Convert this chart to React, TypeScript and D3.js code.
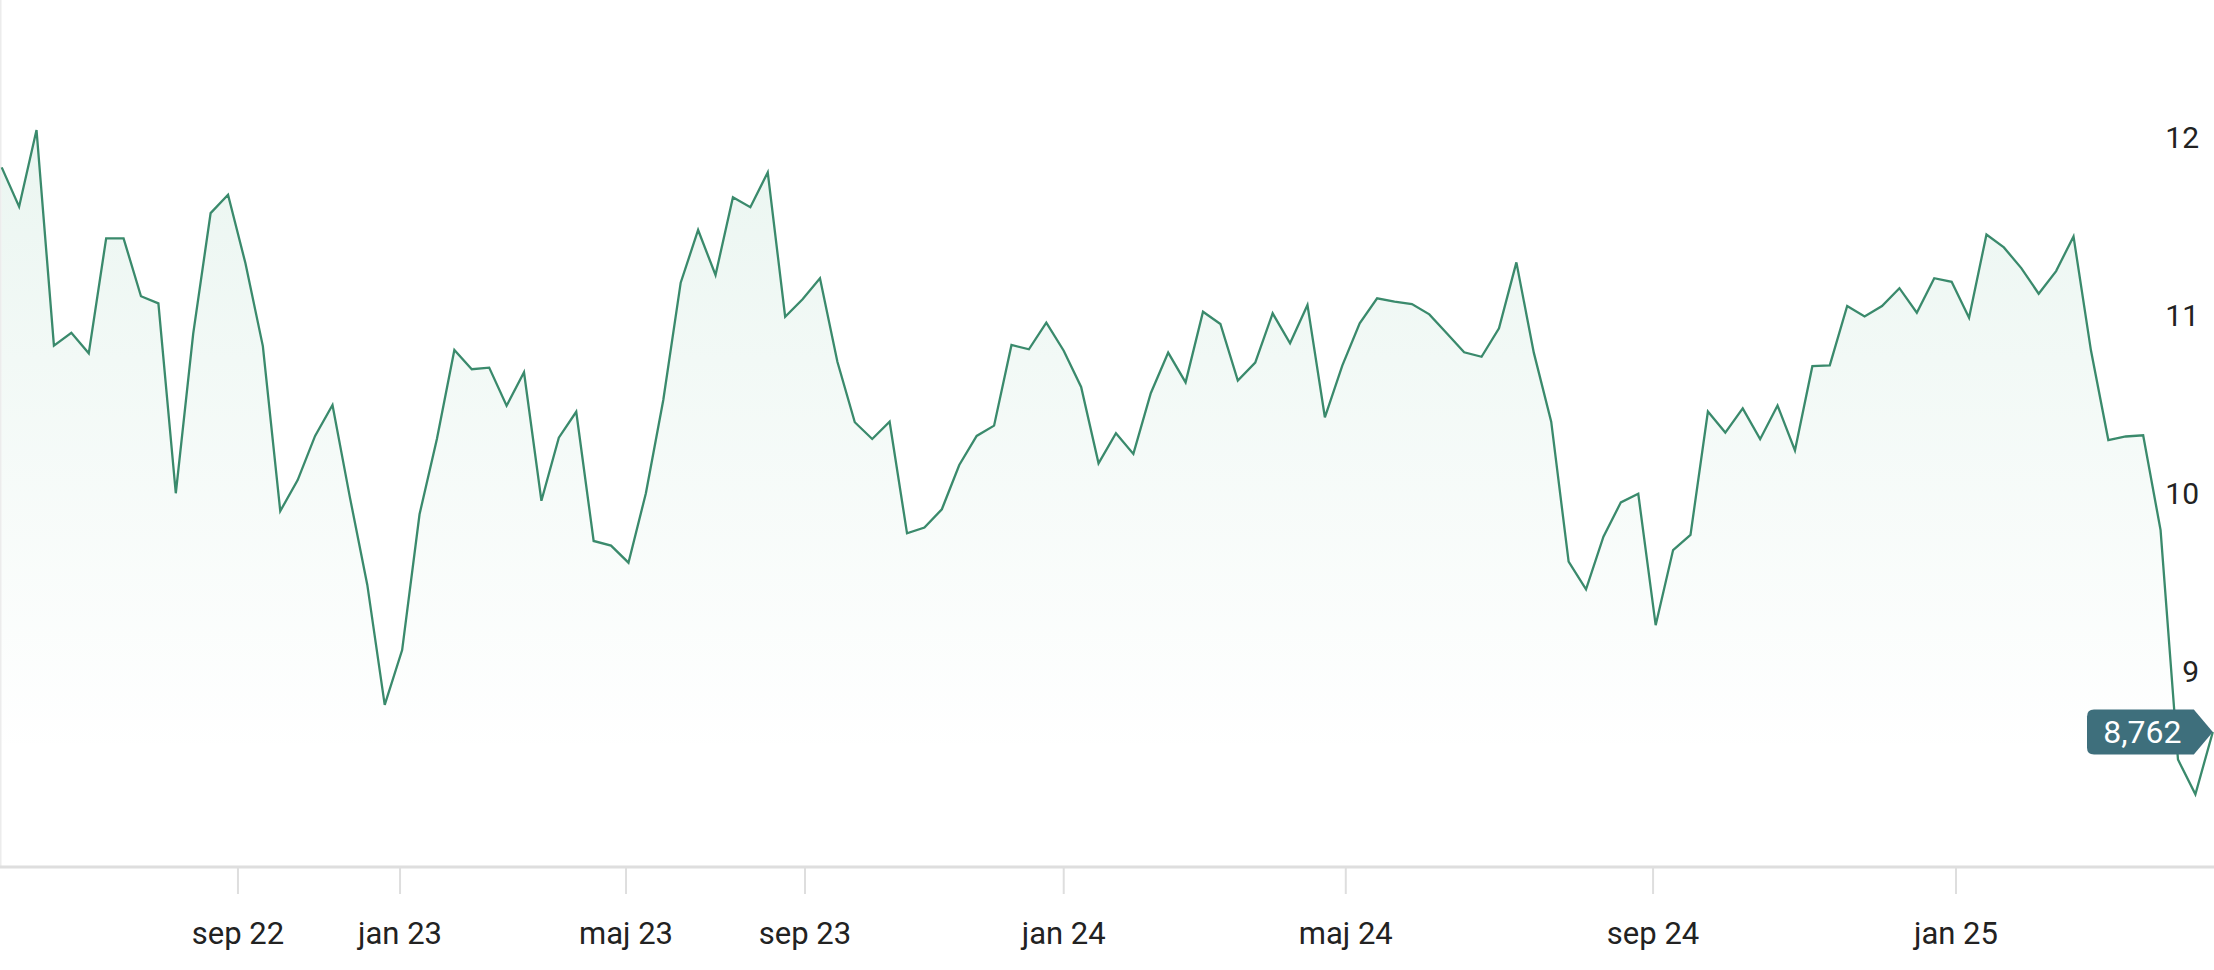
import React from "react";
import * as d3 from "d3";

const prices: number[] = [
  11.934, 11.713, 12.144, 10.932, 11.005, 10.889, 11.535, 11.535, 11.21, 11.17,
  10.103, 11.0, 11.677, 11.78, 11.395, 10.93, 10.003, 10.177, 10.425, 10.599,
  10.08, 9.588, 8.914, 9.222, 9.985, 10.409, 10.908, 10.8, 10.809, 10.595,
  10.783, 10.061, 10.415, 10.561, 9.835, 9.809, 9.713, 10.103, 10.627, 11.286,
  11.582, 11.329, 11.766, 11.71, 11.906, 11.095, 11.193, 11.311, 10.842, 10.502,
  10.408, 10.505, 9.878, 9.91, 10.013, 10.262, 10.425, 10.483, 10.936, 10.912,
  11.061, 10.904, 10.7, 10.271, 10.44, 10.324, 10.665, 10.893, 10.726, 11.123,
  11.054, 10.736, 10.837, 11.114, 10.946, 11.161, 10.53, 10.82, 11.058, 11.198,
  11.179, 11.166, 11.108, 11.002, 10.895, 10.87, 11.03, 11.4, 10.893, 10.505,
  9.719, 9.563, 9.859, 10.052, 10.1, 9.362, 9.784, 9.869, 10.562, 10.444,
  10.58, 10.407, 10.596, 10.344, 10.817, 10.822, 11.155, 11.096, 11.155, 11.255,
  11.117, 11.311, 11.291, 11.089, 11.557, 11.484, 11.368, 11.224, 11.351, 11.546,
  10.906, 10.402, 10.422, 10.429, 9.896, 8.607, 8.412, 8.762,
];

const xTickLabels: string[] = ["sep 22", "jan 23", "maj 23", "sep 23", "jan 24", "maj 24", "sep 24", "jan 25"];
const xTickIndex: number[] = [13.57, 22.88, 35.86, 46.14, 61.0, 77.2, 94.85, 112.25];
const yTicks: number[] = [9, 10, 11, 12];
const lastLabel = "8,762";

const W = 2214;
const H = 970;
const AXIS_Y = 867;

export default function App() {
  const x = d3.scaleLinear().domain([0, prices.length - 1]).range([1.7, 2212.8]);
  const y = d3.scaleLinear().domain([9, 12]).range([689.6, 155.6]);

  const line = d3
    .line<number>()
    .x((_, i) => x(i))
    .y((d) => y(d));
  const area = d3
    .area<number>()
    .x((_, i) => x(i))
    .y0(AXIS_Y)
    .y1((d) => y(d));

  const lastX = x(prices.length - 1);
  const lastY = y(prices[prices.length - 1]);
  const tagRight = lastX;
  const tagLeft = 2087;
  const tagH = 45;
  const tagTop = lastY - tagH / 2;
  const tagBot = lastY + tagH / 2;
  const pointStart = tagRight - 19;
  const r = 7;
  const tagPath = `M${tagLeft + r},${tagTop} L${pointStart},${tagTop} L${tagRight},${lastY} L${pointStart},${tagBot} L${tagLeft + r},${tagBot} Q${tagLeft},${tagBot} ${tagLeft},${tagBot - r} L${tagLeft},${tagTop + r} Q${tagLeft},${tagTop} ${tagLeft + r},${tagTop} Z`;

  const font = "Roboto, 'Noto Sans', sans-serif";

  return (
    <svg
      width={W}
      height={H}
      style={{ position: "absolute", left: 0, top: 0, background: "#fff" }}
    >
      <defs>
        <linearGradient id="fillGrad" gradientUnits="userSpaceOnUse" x1="0" y1="120" x2="0" y2={AXIS_Y}>
          <stop offset="0" stopColor="#2f9e6e" stopOpacity={0.1} />
          <stop offset="0.85" stopColor="#2f9e6e" stopOpacity={0.0} />
        </linearGradient>
      </defs>
      <line x1={0.75} x2={0.75} y1={0} y2={AXIS_Y} stroke="#ececec" strokeWidth={1.5} />
      <path d={area(prices) || ""} fill="url(#fillGrad)" />
      <path d={line(prices) || ""} fill="none" stroke="#3a8a6c" strokeWidth={2.3} strokeLinejoin="miter" />
      <line x1={0} x2={W} y1={AXIS_Y} y2={AXIS_Y} stroke="#dedede" strokeWidth={3} />
      {xTickIndex.map((t, i) => (
        <g key={xTickLabels[i]}>
          <line x1={x(t)} x2={x(t)} y1={AXIS_Y} y2={AXIS_Y + 27} stroke="#dedede" strokeWidth={2} />
          <text
            x={x(t)}
            y={944}
            textAnchor="middle"
            fontFamily={font}
            fontSize={31}
            fill="#222"
          >
            {xTickLabels[i]}
          </text>
        </g>
      ))}
      {yTicks.map((v) => (
        <text
          key={v}
          x={2199}
          y={y(v) - 8}
          textAnchor="end"
          fontFamily={font}
          fontSize={30}
          fill="#222"
        >
          {v}
        </text>
      ))}
      <path d={tagPath} fill="#3e6f7c" />
      <text
        x={(tagLeft + pointStart) / 2 + 2}
        y={lastY + 11}
        textAnchor="middle"
        fontFamily={font}
        fontSize={32}
        fill="#fff"
      >
        {lastLabel}
      </text>
    </svg>
  );
}
